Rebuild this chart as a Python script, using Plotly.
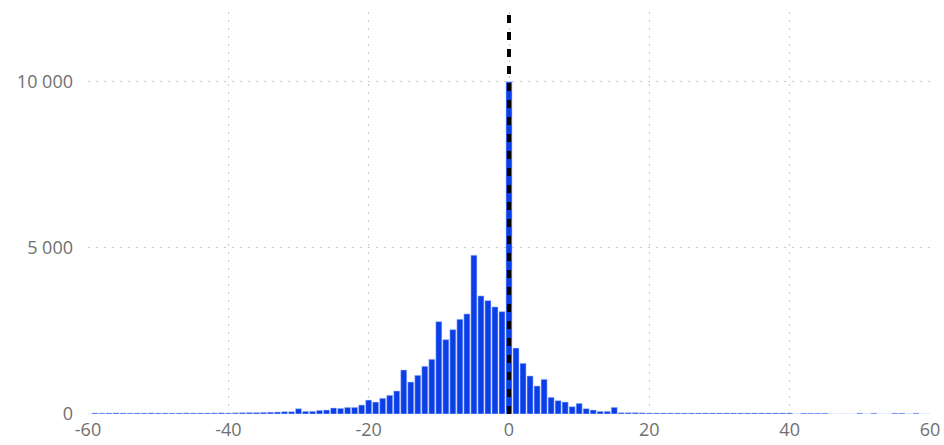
import plotly.graph_objects as go

# histogram bins (integer centers) and counts
bins = list(range(-60, 61))

left_tail = [0] + [30, 28, 30, 32, 30, 28, 30, 30, 32, 30, 30, 28, 30, 32, 30, 30, 30, 32, 35, 30, 35, 40, 45, 45, 50, 55, 60]  # -60 .. -33
core = [70, 70, 160, 80, 80, 110, 120, 180, 170, 200, 200, 270, 420, 360,   # -32 .. -19
        473, 563, 693, 1325, 964, 1165, 1436, 1647, 2781, 2239, 2540, 2851, 3012,  # -18 .. -6
        4779, 3554, 3414, 3223, 3082,                                          # -5 .. -1
        10000,                                                                 # 0
        1985, 1526, 1145, 843, 1044, 502, 402, 361, 221, 321, 161, 120, 80, 80, 201,  # 1 .. 15
        40, 40, 40]                                                            # 16 .. 18
right_tail = [35, 30, 30, 30, 30, 30, 30, 30, 30, 30, 30, 30, 30, 30, 30, 30, 30, 30, 30, 30, 30, 30,  # 19 .. 40
              0, 25, 25, 25, 25, 0, 0, 0, 0, 25, 0, 25, 0, 0, 25, 25, 0, 25, 0, 0]  # 41 .. 60
counts = left_tail + core + right_tail

x_ticks = [-60, -40, -20, 0, 20, 40, 60]
x_tick_labels = ["-60", "-40", "-20", "0", "20", "40", "60"]
y_ticks = [0, 5000, 10000]
y_tick_labels = ["0", "5 000", "10 000"]
marker_x = 0

fig = go.Figure()
fig.add_trace(go.Bar(
    x=bins, y=counts,
    marker=dict(color="#0a3fe8", line=dict(color="rgba(190,205,255,0.9)", width=0.6)),
    width=0.86,
))
fig.add_shape(type="line", x0=marker_x, x1=marker_x, xref="x", y0=0, y1=1, yref="paper",
              line=dict(color="black", width=4, dash="8px,9px"), layer="above")

fig.update_layout(
    width=944, height=445,
    margin=dict(l=88, r=14, t=12, b=31),
    plot_bgcolor="white", paper_bgcolor="white",
    showlegend=False,
    font=dict(family="Open Sans", size=18, color="#707070"),
    xaxis=dict(range=[-60, 60], tickvals=x_ticks, ticktext=x_tick_labels,
               showgrid=True, gridcolor="#c8c8c8",
               griddash="2px,6px", gridwidth=1, zeroline=False, showline=False, ticks="",
               ticklabelstandoff=3, automargin=False),
    yaxis=dict(range=[0, 12100], tickvals=y_ticks, ticktext=y_tick_labels,
               showgrid=True, gridcolor="#c8c8c8",
               griddash="2px,6px", gridwidth=1, zeroline=False, showline=False, ticks="",
               ticklabelstandoff=14, automargin=False),
)
fig.write_html(
    "out.html",
    config={"displayModeBar": False},
    post_script="document.body.style.margin='0';document.body.style.overflow='hidden';"
                "document.documentElement.style.overflow='hidden';",
)
